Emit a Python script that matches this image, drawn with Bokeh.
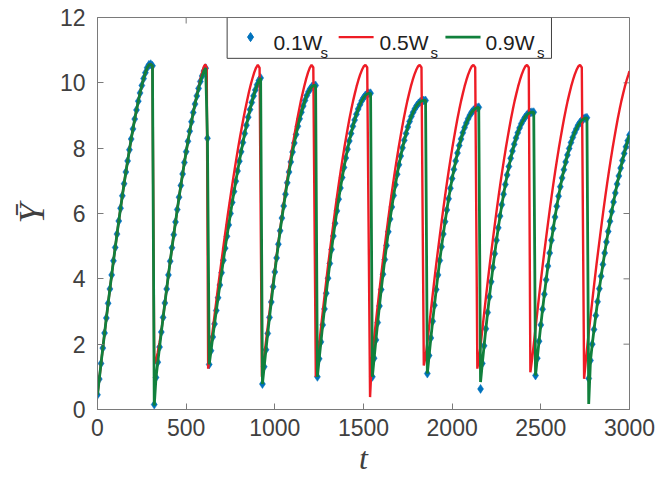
from bokeh.plotting import figure
from bokeh.models import Range1d, FixedTicker
from bokeh.embed import file_html
from bokeh.resources import INLINE
from bokeh.core.properties import value

# ---------------- data ----------------
x_ticks = [0, 500, 1000, 1500, 2000, 2500, 3000]
y_ticks = [0, 2, 4, 6, 8, 10, 12]
legend_main = ["0.1W", "0.5W", "0.9W"]
legend_sub = ["s", "s", "s"]

# 0.1Ws : sampled every 10 time units
blue_t = list(range(0, 3001, 10))
blue_y = [
    0.45, 0.93, 1.41, 1.88, 2.34, 2.80, 3.25, 3.69, 4.12, 4.55, 4.96, 5.37, 5.77, 6.16, 6.54,
    6.91, 7.27, 7.61, 7.95, 8.28, 8.59, 8.89, 9.17, 9.44, 9.69, 9.92, 10.13, 10.31, 10.46, 10.55,
    10.57, 10.52, 0.15,
    0.98, 1.45, 1.91, 2.37, 2.82, 3.26, 3.69, 4.12, 4.54, 4.95, 5.35, 5.74, 6.12, 6.50, 6.86,
    7.21, 7.56, 7.89, 8.21, 8.52, 8.81, 9.09, 9.35, 9.60, 9.83, 10.04, 10.21, 10.36, 10.45,
    8.30,
    1.38, 1.80, 2.22, 2.62, 3.03, 3.42, 3.81, 4.19, 4.57, 4.94, 5.30, 5.65, 6.00, 6.34, 6.67,
    6.99, 7.30, 7.60, 7.89, 8.17, 8.45, 8.70, 8.95, 9.18, 9.40, 9.60, 9.78, 9.94, 10.07, 10.15,
    0.78, 1.31, 1.83, 2.33, 2.82, 3.29, 3.76, 4.21, 4.64, 5.06, 5.47, 5.86, 6.23, 6.59, 6.94,
    7.27, 7.58, 7.88, 8.16, 8.42, 8.67, 8.90, 9.10, 9.29, 9.46, 9.61, 9.73, 9.82, 9.89, 9.92,
    9.92,
    1.00, 1.55, 2.07, 2.59, 3.08, 3.56, 4.02, 4.47, 4.90, 5.31, 5.70, 6.08, 6.44, 6.78, 7.10,
    7.41, 7.70, 7.97, 8.22, 8.45, 8.67, 8.86, 9.04, 9.20, 9.33, 9.45, 9.54, 9.61, 9.66, 9.68,
    9.68,
    1.00, 1.57, 2.13, 2.66, 3.17, 3.67, 4.14, 4.59, 5.02, 5.44, 5.83, 6.20, 6.55, 6.88, 7.20,
    7.49, 7.76, 8.01, 8.24, 8.45, 8.65, 8.82, 8.97, 9.10, 9.21, 9.30, 9.37, 9.42, 9.45, 9.46,
    9.46,
    1.10, 1.65, 2.19, 2.70, 3.19, 3.67, 4.12, 4.56, 4.98, 5.37, 5.75, 6.11, 6.45, 6.77, 7.07,
    7.35, 7.61, 7.85, 8.08, 8.28, 8.47, 8.63, 8.77, 8.90, 9.01, 9.10, 9.16, 9.21, 9.24, 9.25,
    0.63,
    1.41, 1.95, 2.47, 2.97, 3.45, 3.91, 4.35, 4.77, 5.18, 5.56, 5.92, 6.27, 6.59, 6.89, 7.18,
    7.44, 7.69, 7.91, 8.12, 8.31, 8.47, 8.62, 8.75, 8.85, 8.94, 9.01, 9.06, 9.09, 9.10,
    9.10,
    1.04, 1.57, 2.09, 2.59, 3.07, 3.53, 3.97, 4.39, 4.79, 5.18, 5.54, 5.89, 6.22, 6.53, 6.82,
    7.09, 7.34, 7.58, 7.79, 7.99, 8.17, 8.33, 8.47, 8.59, 8.70, 8.78, 8.85, 8.89, 8.92, 8.93,
    0.95, 1.50, 2.00, 2.45, 2.88, 3.30, 3.70, 4.08, 4.44, 4.79, 5.13, 5.45, 5.76, 6.06, 6.35,
    6.63, 6.90, 7.15, 7.39, 7.62, 7.84, 8.04, 8.23, 8.40,
]

# 0.9Ws : same track as 0.1Ws except at the bottoms of these drops
green_dip_t = [320, 2160, 2770]
green_dip_y = [0.12, 0.84, 0.17]

# 0.5Ws
red_t = [
    0, 10, 20, 30, 40, 50, 60, 70, 80, 90, 100, 110, 120, 130, 140, 150, 160, 170, 180, 190,
    200, 210, 220, 230, 240, 250, 260, 270, 280, 290, 300, 310, 320,
    330, 340, 350, 360, 370, 380, 390, 400, 410, 420, 430, 440, 450, 460, 470, 480, 490, 500,
    510, 520, 530, 540, 550, 560, 570, 580, 590, 600, 608, 616, 624,
    634, 644, 654, 664, 674, 684, 694, 704, 714, 724, 734, 744, 754, 764, 774, 784, 794, 804,
    814, 824, 834, 844, 854, 864, 874, 884, 894, 904, 914, 927,
    937, 947, 957, 967, 977, 987, 997, 1007, 1017, 1027, 1037, 1047, 1057, 1067, 1077, 1087,
    1097, 1107, 1117, 1127, 1137, 1147, 1157, 1167, 1177, 1187, 1197, 1207, 1217, 1231,
    1241, 1251, 1261, 1271, 1281, 1291, 1301, 1311, 1321, 1331, 1341, 1351, 1361, 1371, 1381,
    1391, 1401, 1411, 1421, 1431, 1441, 1451, 1461, 1471, 1481, 1491, 1501, 1511, 1521, 1537,
    1547, 1557, 1567, 1577, 1587, 1597, 1607, 1617, 1627, 1637, 1647, 1657, 1667, 1677, 1687,
    1697, 1707, 1717, 1727, 1737, 1747, 1757, 1767, 1777, 1787, 1797, 1807, 1817, 1827, 1840,
    1850, 1860, 1870, 1880, 1890, 1900, 1910, 1920, 1930, 1940, 1950, 1960, 1970, 1980, 1990,
    2000, 2010, 2020, 2030, 2040, 2050, 2060, 2070, 2080, 2090, 2100, 2110, 2120, 2130, 2142,
    2152, 2162, 2172, 2182, 2192, 2202, 2212, 2222, 2232, 2242, 2252, 2262, 2272, 2282, 2292,
    2302, 2312, 2322, 2332, 2342, 2352, 2362, 2372, 2382, 2392, 2402, 2412, 2422, 2432, 2441,
    2451, 2461, 2471, 2481, 2491, 2501, 2511, 2521, 2531, 2541, 2551, 2561, 2571, 2581, 2591,
    2601, 2611, 2621, 2631, 2641, 2651, 2661, 2671, 2681, 2691, 2701, 2711, 2721, 2731, 2744,
    2754, 2764, 2774, 2784, 2794, 2804, 2814, 2824, 2834, 2844, 2854, 2864, 2874, 2884, 2894,
    2904, 2914, 2924, 2934, 2944, 2954, 2964, 2974, 2984, 2994, 3000,
]
red_y = [
    0.45, 0.93, 1.41, 1.88, 2.34, 2.80, 3.25, 3.69, 4.12, 4.55, 4.96, 5.37, 5.77, 6.16, 6.54,
    6.91, 7.27, 7.61, 7.95, 8.28, 8.59, 8.89, 9.17, 9.44, 9.69, 9.92, 10.13, 10.31, 10.46, 10.55,
    10.58, 10.50, 1.40,
    1.50, 1.75, 2.05, 2.40, 2.82, 3.26, 3.69, 4.12, 4.54, 4.95, 5.35, 5.74, 6.12, 6.50, 6.86,
    7.21, 7.56, 7.89, 8.21, 8.52, 8.81, 9.09, 9.36, 9.62, 9.86, 10.10, 10.32, 10.50, 10.56, 10.46,
    1.25,
    1.71, 2.17, 2.61, 3.06, 3.49, 3.92, 4.33, 4.74, 5.15, 5.54, 5.93, 6.30, 6.67, 7.03, 7.37,
    7.71, 8.04, 8.35, 8.65, 8.94, 9.21, 9.47, 9.72, 9.94, 10.14, 10.32, 10.46, 10.55, 10.46, 1.00,
    1.47, 1.94, 2.40, 2.85, 3.30, 3.74, 4.17, 4.59, 5.00, 5.40, 5.80, 6.19, 6.56, 6.93, 7.29,
    7.63, 7.97, 8.29, 8.60, 8.90, 9.18, 9.45, 9.69, 9.92, 10.13, 10.31, 10.46, 10.55, 10.47, 1.00,
    1.52, 2.04, 2.54, 3.03, 3.51, 3.98, 4.44, 4.88, 5.31, 5.73, 6.14, 6.54, 6.92, 7.29, 7.64,
    7.98, 8.30, 8.61, 8.91, 9.18, 9.44, 9.67, 9.89, 10.08, 10.25, 10.39, 10.50, 10.55, 10.47, 0.38,
    1.52, 2.04, 2.54, 3.03, 3.51, 3.98, 4.44, 4.88, 5.31, 5.73, 6.14, 6.54, 6.92, 7.29, 7.64,
    7.98, 8.30, 8.61, 8.91, 9.18, 9.44, 9.67, 9.89, 10.08, 10.25, 10.39, 10.50, 10.55, 10.47, 1.35,
    1.62, 2.04, 2.54, 3.03, 3.51, 3.98, 4.44, 4.88, 5.31, 5.73, 6.14, 6.54, 6.92, 7.29, 7.64,
    7.98, 8.30, 8.61, 8.91, 9.18, 9.44, 9.67, 9.89, 10.08, 10.25, 10.39, 10.50, 10.55, 10.47, 1.25,
    1.60, 2.04, 2.54, 3.03, 3.51, 3.98, 4.44, 4.88, 5.31, 5.73, 6.14, 6.54, 6.92, 7.29, 7.64,
    7.98, 8.30, 8.61, 8.91, 9.18, 9.44, 9.67, 9.89, 10.08, 10.25, 10.39, 10.50, 10.55, 10.47, 1.14,
    1.55, 2.04, 2.54, 3.03, 3.51, 3.98, 4.44, 4.88, 5.31, 5.73, 6.14, 6.54, 6.92, 7.29, 7.64,
    7.98, 8.30, 8.61, 8.91, 9.18, 9.44, 9.67, 9.89, 10.08, 10.25, 10.39, 10.50, 10.55, 10.47, 0.94,
    1.52, 2.04, 2.54, 3.03, 3.51, 3.98, 4.44, 4.88, 5.31, 5.73, 6.14, 6.54, 6.92, 7.29, 7.64,
    7.98, 8.30, 8.61, 8.91, 9.18, 9.44, 9.67, 9.89, 10.08, 10.25, 10.36,
]

assert len(blue_t) == len(blue_y), (len(blue_t), len(blue_y))
assert len(red_t) == len(red_y), (len(red_t), len(red_y))

dips = dict(zip(green_dip_t, green_dip_y))
green_t = blue_t
green_y = [dips.get(t, y) for t, y in zip(blue_t, blue_y)]

# ---------------- style ----------------
BLUE = "#0072BD"
RED = "#EE1C25"
GREEN = "#11803C"
AX = "#7a7a7a"
LBL = "#404040"
SANS = "Liberation Sans"
SERIF = "Liberation Serif"
X0, X1, Y0, Y1 = 0, 3000, 0, 12
FRAME_W, FRAME_H = 532, 392
TICK_PX = 6

p = figure(width=660, height=483, x_range=Range1d(X0, X1), y_range=Range1d(Y0, Y1),
           output_backend="svg", toolbar_location=None,
           min_border_left=97, min_border_right=31, min_border_top=17, min_border_bottom=74,
           x_axis_label="t", y_axis_label="\u0232")
p.xgrid.visible = False
p.ygrid.visible = False
p.outline_line_color = AX
p.outline_line_width = 1
p.background_fill_color = "white"
p.border_fill_color = "white"

p.xaxis.ticker = FixedTicker(ticks=x_ticks)
p.yaxis.ticker = FixedTicker(ticks=y_ticks)
for ax in (p.xaxis[0], p.yaxis[0]):
    ax.axis_line_color = AX
    ax.major_tick_line_color = AX
    ax.major_tick_in = TICK_PX
    ax.major_tick_out = 0
    ax.minor_tick_line_color = None
    ax.major_label_text_font = SANS
    ax.major_label_text_font_size = "23px"
    ax.major_label_text_color = LBL
    ax.axis_label_text_font = SERIF
    ax.axis_label_text_font_style = "italic"
    ax.axis_label_text_color = LBL
p.xaxis.major_label_standoff = 9
p.xaxis.axis_label_standoff = 1
p.xaxis.axis_label_text_font_size = "32px"
p.yaxis.major_label_standoff = 12
p.yaxis.axis_label_standoff = 5
p.yaxis.axis_label_text_font_size = "36px"

# mirrored inward ticks on the top and right edges of the box
dx = TICK_PX * (X1 - X0) / FRAME_W
dy = TICK_PX * (Y1 - Y0) / FRAME_H
p.segment(x0=x_ticks, y0=[Y1] * len(x_ticks), x1=x_ticks, y1=[Y1 - dy] * len(x_ticks),
          line_color=AX, line_width=1)
p.segment(x0=[X1] * len(y_ticks), y0=y_ticks, x1=[X1 - dx] * len(y_ticks), y1=y_ticks,
          line_color=AX, line_width=1)

# ---------------- series ----------------
p.scatter(blue_t, blue_y, marker="diamond", size=9, fill_color=BLUE, line_color=BLUE, line_width=0.5)
p.line(red_t, red_y, line_color=RED, line_width=2.4)
p.line(green_t, green_y, line_color=GREEN, line_width=2.8)

# ---------------- legend (drawn by hand for the subscripts) ----------------
p.quad(left=[731], right=[2560], bottom=[10.75], top=[12.0], fill_color="white",
       line_color="#404040", line_width=1)
p.scatter([863], [11.40], marker="diamond", size=9, fill_color=BLUE, line_color=BLUE)
p.line([1360, 1557], [11.40, 11.40], line_color=RED, line_width=2.4)
p.line([1962, 2160], [11.40, 11.40], line_color=GREEN, line_width=2.8)
p.text(x=[992, 1590, 2188], y=[11.24, 11.24, 11.24], text=legend_main,
       text_font=value(SANS), text_font_size="21px", text_color="#202020",
       text_align="left", text_baseline="alphabetic")
p.text(x=[1258, 1878, 2478], y=[10.94, 10.94, 10.94], text=legend_sub,
       text_font=value(SANS), text_font_size="15px", text_color="#202020",
       text_align="left", text_baseline="alphabetic")

open("out.html", "w").write(file_html(p, INLINE))
